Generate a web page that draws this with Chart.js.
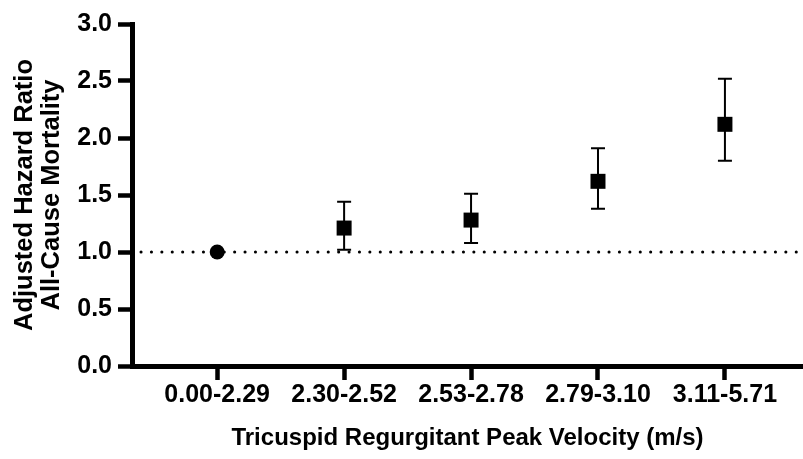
<!DOCTYPE html>
<html>
<head>
<meta charset="utf-8">
<script src="https://cdn.jsdelivr.net/npm/chart.js@4.4.0/dist/chart.umd.min.js"></script>
<style>
  html, body { margin: 0; padding: 0; background: #fff; }
  #wrap { width: 803px; height: 459px; }
</style>
</head>
<body>
<div id="wrap"><canvas id="myChart"></canvas></div>
<script>
const categories = ['0.00-2.29', '2.30-2.52', '2.53-2.78', '2.79-3.10', '3.11-5.71'];
const hazardRatio = [1.00, 1.21, 1.28, 1.62, 2.12];
const ciLower = [null, 1.02, 1.08, 1.38, 1.80];
const ciUpper = [null, 1.44, 1.51, 1.91, 2.52];
const markerStyle = ['circle', 'rect', 'rect', 'rect', 'rect'];
const yTicks = [0, 0.5, 1.0, 1.5, 2.0, 2.5, 3.0];
const refValue = 1.0;

const family = '"Liberation Sans", Arial, sans-serif';

const errorBars = {
    id: 'errorBars',
    beforeDatasetsDraw(chart) {
        const ctx = chart.ctx;
        const xs = chart.scales.x, ys = chart.scales.y;
        const area = chart.chartArea;
        // dotted reference line at HR = 1
        const yRef = ys.getPixelForValue(refValue);
        ctx.save();
        ctx.strokeStyle = '#000';
        ctx.lineWidth = 3;
        ctx.lineCap = 'round';
        ctx.setLineDash([0.1, 10.3]);
        ctx.beginPath();
        ctx.moveTo(area.left + 9, yRef);
        ctx.lineTo(area.right, yRef);
        ctx.stroke();
        ctx.setLineDash([]);
        ctx.lineCap = 'butt';
        ctx.lineWidth = 2;
        hazardRatio.forEach((v, i) => {
            if (ciLower[i] == null) return;
            const x = xs.getPixelForValue(i);
            const yl = ys.getPixelForValue(ciLower[i]);
            const yu = ys.getPixelForValue(ciUpper[i]);
            ctx.beginPath();
            ctx.moveTo(x, yl); ctx.lineTo(x, yu);
            ctx.moveTo(x - 7, yl); ctx.lineTo(x + 7, yl);
            ctx.moveTo(x - 7, yu); ctx.lineTo(x + 7, yu);
            ctx.stroke();
        });
        ctx.restore();
    }
};

const data = {
    datasets: [{
        label: 'Adjusted HR',
        data: hazardRatio.map((v, i) => ({x: i, y: v})),
        pointStyle: markerStyle,
        pointRadius: markerStyle.map(s => s === 'rect' ? 10.6 : 7.5),
        backgroundColor: '#000',
        borderColor: '#000',
        borderWidth: 0,
        showLine: false,
    }]
};

const config = {
    type: 'scatter',
    data: data,
    plugins: [errorBars],
    options: {
        responsive: true,
        maintainAspectRatio: false,
        animation: false,
        layout: {autoPadding: false, padding: {top: 24, right: 0, bottom: 6, left: 12}},
        plugins: {
            legend: {display: false},
            tooltip: {enabled: false},
        },
        scales: {
            x: {
                type: 'linear',
                bounds: 'data',
                min: -0.671,
                max: 4.615,
                afterBuildTicks: (scale) => {
                    scale.ticks = categories.map((c, i) => ({value: i}));
                },
                afterFit: (scale) => {
                    scale.height = 87;
                    scale.paddingLeft = 0;
                    scale.paddingRight = 0;
                },
                border: {display: true, color: '#000', width: 5},
                grid: {drawOnChartArea: false, drawTicks: true, tickLength: 14, tickWidth: 4.5, tickColor: '#000'},
                ticks: {
                    color: '#000',
                    font: {family: family, weight: 'bold', size: 25},
                    padding: 0,
                    maxRotation: 0,
                    autoSkip: false,
                    callback: (v) => categories[v] ?? '',
                },
                title: {
                    display: true,
                    text: 'Tricuspid Regurgitant Peak Velocity (m/s)',
                    color: '#000',
                    font: {family: family, weight: 'bold', size: 24},
                    padding: {top: 6, bottom: 0},
                },
            },
            y: {
                min: 0,
                max: 3,
                afterBuildTicks: (scale) => {
                    scale.ticks = yTicks.map(v => ({value: v}));
                },
                afterFit: (scale) => {
                    scale.width = 120;
                    scale.paddingTop = 0;
                    scale.paddingBottom = 0;
                },
                border: {display: true, color: '#000', width: 5},
                grid: {drawOnChartArea: false, drawTicks: true, tickLength: 14, tickWidth: 4.5, tickColor: '#000'},
                ticks: {
                    color: '#000',
                    font: {family: family, weight: 'bold', size: 25},
                    padding: 6,
                    callback: (v) => v.toFixed(1),
                },
                title: {
                    display: true,
                    text: ['Adjusted Hazard Ratio', 'All-Cause Mortality'],
                    color: '#000',
                    font: {family: family, weight: 'bold', size: 25.5, lineHeight: 1.05},
                    padding: {top: 0, bottom: 4},
                },
            },
        },
    },
};

const myChart = new Chart(document.getElementById('myChart'), config);
</script>
</body>
</html>
